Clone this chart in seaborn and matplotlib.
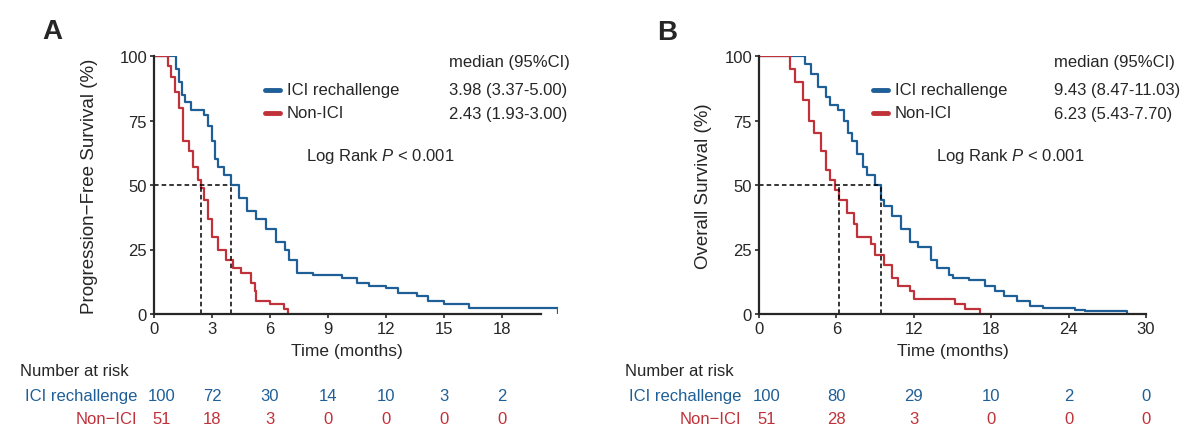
import pandas as pd
import numpy as np
import matplotlib
matplotlib.use("Agg")
import matplotlib.pyplot as plt
import seaborn as sns

# ---- data ----
pfs_ici_t = [0, 1.15, 1.3, 1.45, 1.6, 1.9, 2.6, 2.8, 3.0, 3.15, 3.3, 3.6, 3.98, 4.4, 4.8, 5.3, 5.8, 6.3, 6.8, 7.0, 7.4, 8.2, 9.7, 10.5, 11.1, 12.0, 12.6, 13.6, 14.2, 15.0, 16.3, 20.9]
pfs_ici_s = [100, 95, 90, 85, 82, 79, 77, 73, 67, 60, 57, 54, 50, 45, 40, 37, 33, 28, 25, 21, 16, 15, 14, 12, 11, 10, 8, 7, 5, 4, 2.5, 0]
pfs_non_t = [0, 0.7, 0.9, 1.1, 1.3, 1.5, 1.8, 2.0, 2.3, 2.43, 2.6, 2.8, 3.0, 3.3, 3.7, 4.1, 4.5, 5.0, 5.2, 5.3, 6.0, 6.7, 6.95]
pfs_non_s = [100, 96, 92, 86, 80, 67, 63, 57, 52, 49, 44, 37, 30, 25, 21, 18, 16, 12, 9, 5, 4, 2, 0]
pfs_medians = [3.98, 2.43]
pfs_ticks = [0, 3, 6, 9, 12, 15, 18]
pfs_risk_ici = [100, 72, 30, 14, 10, 3, 2]
pfs_risk_non = [51, 18, 3, 0, 0, 0, 0]
pfs_ci = ["3.98 (3.37-5.00)", "2.43 (1.93-3.00)"]

os_ici_t = [0, 3.6, 4.0, 4.6, 5.2, 5.5, 6.1, 6.6, 6.9, 7.2, 7.6, 8.1, 8.4, 9.0, 9.43, 9.7, 10.3, 11.0, 11.7, 12.3, 13.3, 13.8, 14.7, 15.0, 16.3, 17.5, 18.3, 19.0, 20.0, 21.0, 22.0, 24.5, 25.3, 28.5]
os_ici_s = [100, 97, 93, 88, 84, 81, 79, 75, 70, 67, 62, 57, 54, 50, 44, 42, 38, 33, 28, 26, 21, 18, 15, 14, 13, 11, 9, 7, 5, 3, 2.5, 1.5, 1, 0]
os_non_t = [0, 2.4, 2.8, 3.4, 3.9, 4.3, 4.8, 5.2, 5.5, 5.9, 6.2, 6.8, 7.4, 7.6, 8.7, 9.0, 9.7, 10.3, 10.8, 11.7, 12.0, 15.2, 16.0, 17.1]
os_non_s = [100, 95, 90, 83, 75, 70, 63, 56, 52, 48, 44, 39, 35, 30, 27, 23, 19, 14, 11, 9, 6, 4, 2, 0]
os_medians = [9.43, 6.23]
os_ticks = [0, 6, 12, 18, 24, 30]
os_risk_ici = [100, 80, 29, 10, 2, 0]
os_risk_non = [51, 28, 3, 0, 0, 0]
os_ci = ["9.43 (8.47-11.03)", "6.23 (5.43-7.70)"]

groups = ["ICI rechallenge", "Non-ICI"]
BLUE = "#1f5f97"
RED = "#c0323a"

sns.set_style("ticks")
plt.rcParams["font.family"] = ["Liberation Sans", "DejaVu Sans"]
plt.rcParams["mathtext.fontset"] = "custom"
plt.rcParams["mathtext.it"] = "Liberation Sans:italic"
plt.rcParams["mathtext.rm"] = "Liberation Sans"

W, H = 1200, 435
fig = plt.figure(figsize=(12, 4.35), dpi=100)


def fx(px):
    return px / W


def fy(py):
    return 1 - py / H


def panel(rect, ici_t, ici_s, non_t, non_s, medians, ticks, xmax, xspine,
          risk_ici, risk_non, ci, ylabel, ox, letter_xy, lab_x, risk_lab_x, nar_x, ylab_x, lr_x):
    ax = fig.add_axes(rect)
    df = pd.concat([
        pd.DataFrame({"t": ici_t, "s": ici_s, "g": groups[0]}),
        pd.DataFrame({"t": non_t, "s": non_s, "g": groups[1]}),
    ])
    sns.lineplot(data=df, x="t", y="s", hue="g", palette=[BLUE, RED],
                 drawstyle="steps-post", linewidth=1.6, ax=ax, legend=False,
                 estimator=None, sort=False)
    for m in medians:
        ax.plot([m, m], [0, 50], color="black", lw=1.1, dashes=(3, 2))
    ax.plot([0, max(medians)], [50, 50], color="black", lw=1.1, dashes=(3, 2))
    ax.set_xlim(0, xmax)
    ax.set_ylim(0, 100)
    ax.set_xticks(ticks)
    ax.set_yticks([0, 25, 50, 75, 100])
    ax.tick_params(labelsize=12, length=3, width=1.2, pad=2)
    for s in ["top", "right"]:
        ax.spines[s].set_visible(False)
    for s in ["left", "bottom"]:
        ax.spines[s].set_linewidth(1.6)
    ax.spines["bottom"].set_bounds(0, xspine)
    ax.set_xlabel("")
    ax.set_ylabel("")
    fig.text(fx(ylab_x + (lab_x - 287) * 0 + 2 * (xmax - 20.9) / 9.1 * 0), fy(352), "Time (months)",
             fontsize=12.5, ha="center", va="center") if False else None
    fig.text((rect[0] + rect[0] + rect[2] * (xspine / xmax)) / 2, fy(352), "Time (months)",
             fontsize=12.5, ha="center", va="center")
    fig.text(fx(ylab_x), fy(186), ylabel, rotation=90, fontsize=13.5, ha="center", va="center")

    fig.text(fx(letter_xy[0]), fy(letter_xy[1]), letter, fontsize=20, fontweight="bold", ha="center", va="center")
    # legend and medians
    fig.text(fx(ox), fy(63), "median (95%CI)", fontsize=12, ha="left", va="center")
    for i, (c, g) in enumerate(zip([BLUE, RED], groups)):
        yy = 91 + 23 * i
        fig.add_artist(plt.Line2D([fx(lab_x - 22), fx(lab_x - 7)], [fy(yy), fy(yy)], color=c, lw=3.5))
        fig.text(fx(lab_x), fy(yy), g, fontsize=12, ha="left", va="center")
        fig.text(fx(ox), fy(yy), ci[i], fontsize=12, ha="left", va="center")
    fig.text(fx(lr_x), fy(156), r"Log Rank $\it{P}$ < 0.001", fontsize=12, ha="left", va="center")

    # risk table
    fig.text(fx(nar_x), fy(372), "Number at risk", fontsize=12, ha="left", va="center")
    trans = matplotlib.transforms.blended_transform_factory(ax.transData, fig.transFigure)
    for vals, c, g, yy in [(risk_ici, BLUE, groups[0], 397), (risk_non, RED, "Non\u2212ICI", 420)]:
        fig.text(fx(risk_lab_x), fy(yy), g, fontsize=12, color=c, ha="right", va="center")
        for t, v in zip(ticks, vals):
            ax.text(t + 0.02 * xmax * (1 if t == 0 else 0), fy(yy), str(v), transform=trans,
                    fontsize=12, color=c, ha="center", va="center", clip_on=False)
    return ax


letter = "A"
panel([fx(154), fy(315), fx(558) - fx(154), fy(57) - fy(315)],
      pfs_ici_t, pfs_ici_s, pfs_non_t, pfs_non_s, pfs_medians, pfs_ticks, 20.9, 20.0,
      pfs_risk_ici, pfs_risk_non, pfs_ci, "Progression\u2212Free Survival (%)",
      449, (52, 32), 287, 137, 20, 90, 306)
letter = "B"
panel([fx(759), fy(315), fx(1146) - fx(759), fy(57) - fy(315)],
      os_ici_t, os_ici_s, os_non_t, os_non_s, os_medians, os_ticks, 30, 30,
      os_risk_ici, os_risk_non, os_ci, "Overall Survival (%)",
      1054, (667, 33), 895, 741, 625, 703, 936)

fig.savefig("out.png", dpi=100)
